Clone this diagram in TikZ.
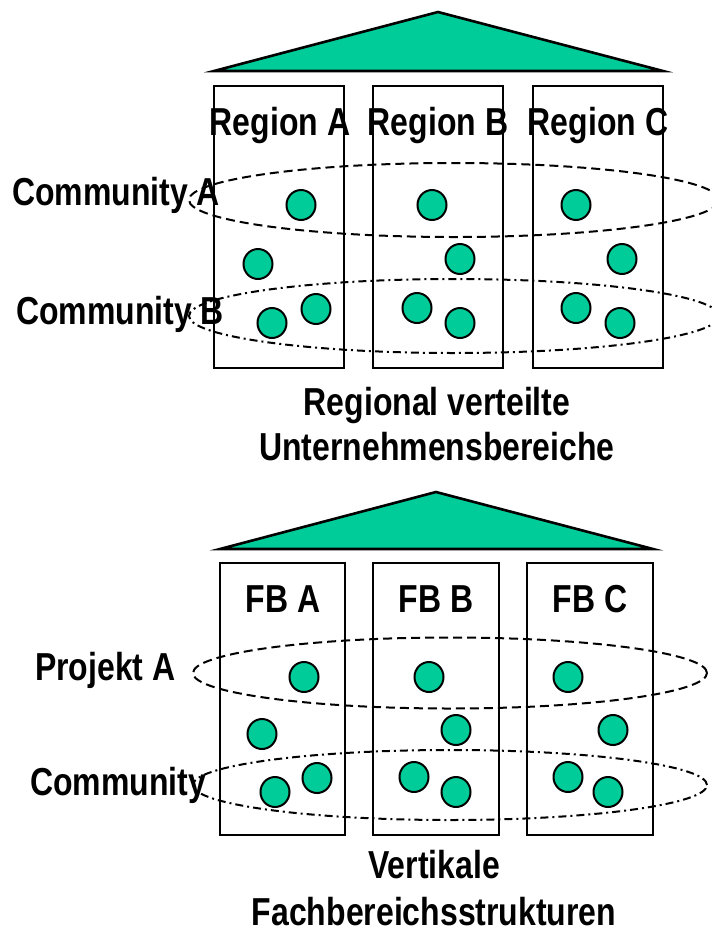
\documentclass[tikz,border=0pt]{standalone}
\usepackage{fontspec}
\setmainfont{Liberation Sans}[FakeStretch=0.82, UprightFont=*-Bold]
\usetikzlibrary{shapes.geometric}
\definecolor{teal}{RGB}{0,204,153}
\tikzset{
  roof/.style={draw=black, line width=2.6pt, fill=teal, line join=miter},
  column/.style={draw=black, line width=2.6pt},
  member/.style={ellipse, draw=black, line width=2pt, fill=teal,
                 minimum width=29pt, minimum height=30pt, inner sep=0pt},
  groupA/.style={draw=black, line width=2pt, dash pattern=on 9pt off 5pt},
  groupB/.style={draw=black, line width=2pt,
                 dash pattern=on 8pt off 4pt on 2pt off 4pt},
  lbl/.style={inner sep=0pt, font=\fontsize{39}{44}\selectfont},
}
\begin{document}
\begin{tikzpicture}[x=1pt, y=-1pt]
\useasboundingbox (0,0) rectangle (712,935);

% ---------- upper house: regional units ----------
\draw[roof] (214,71) -- (438,12) -- (663,71) -- cycle;
\draw[column] (214,86) rectangle (344,368);
\draw[column] (373,86) rectangle (503,368);
\draw[column] (533,86) rectangle (663,368);

\node[lbl, anchor=base] (ra) at (280,135) {Region A};
\node[lbl, anchor=base] (rb) at (438,135) {Region B};
\node[lbl, anchor=base] (rc) at (598,135) {Region C};

\node[lbl, anchor=base west] (ca) at (12,205) {Community A};
\node[lbl, anchor=base west] (cb) at (16,324) {Community B};

\draw[groupA] (454,200) ellipse [x radius=265pt, y radius=37pt];
\draw[groupB] (454,316) ellipse [x radius=265pt, y radius=37pt];

\node[member] (a1) at (301,205) {};
\node[member] (a2) at (258,264) {};
\node[member] (a3) at (316,309) {};
\node[member] (a4) at (272,323) {};
\node[member] (b1) at (432,205) {};
\node[member] (b2) at (460,259) {};
\node[member] (b3) at (417,308) {};
\node[member] (b4) at (460,323) {};
\node[member] (c1) at (576,205) {};
\node[member] (c2) at (622,259) {};
\node[member] (c3) at (576,308) {};
\node[member] (c4) at (620,323) {};

\node[lbl, anchor=base] (t1) at (437,415) {Regional verteilte};
\node[lbl, anchor=base] (t2) at (437,460) {Unternehmensbereiche};

% ---------- lower house: departments ----------
\draw[roof] (220,549) -- (436,492) -- (653,549) -- cycle;
\draw[column] (220,563) rectangle (345,835);
\draw[column] (373,563) rectangle (499,835);
\draw[column] (527,563) rectangle (653,835);

\node[lbl, anchor=base] (fa) at (283,612) {FB A};
\node[lbl, anchor=base] (fb) at (436,612) {FB B};
\node[lbl, anchor=base] (fc) at (590,612) {FB C};

\node[lbl, anchor=base west] (pa) at (35,680) {Projekt A};
\node[lbl, anchor=base west] (cm) at (30,795) {Community};

\draw[groupA] (450,673) ellipse [x radius=257pt, y radius=35.5pt];
\draw[groupB] (450,785) ellipse [x radius=257pt, y radius=35pt];

\node[member] (d1) at (304,677) {};
\node[member] (d2) at (262,734) {};
\node[member] (d3) at (317,778) {};
\node[member] (d4) at (275,792) {};
\node[member] (e1) at (429,677) {};
\node[member] (e2) at (456,730) {};
\node[member] (e3) at (414,777) {};
\node[member] (e4) at (456,792) {};
\node[member] (g1) at (568,677) {};
\node[member] (g2) at (613,730) {};
\node[member] (g3) at (568,777) {};
\node[member] (g4) at (608,792) {};

\node[lbl, anchor=base] (t3) at (434,878) {Vertikale};
\node[lbl, anchor=base] (t4) at (434,925) {Fachbereichsstrukturen};
\end{tikzpicture}
\end{document}
